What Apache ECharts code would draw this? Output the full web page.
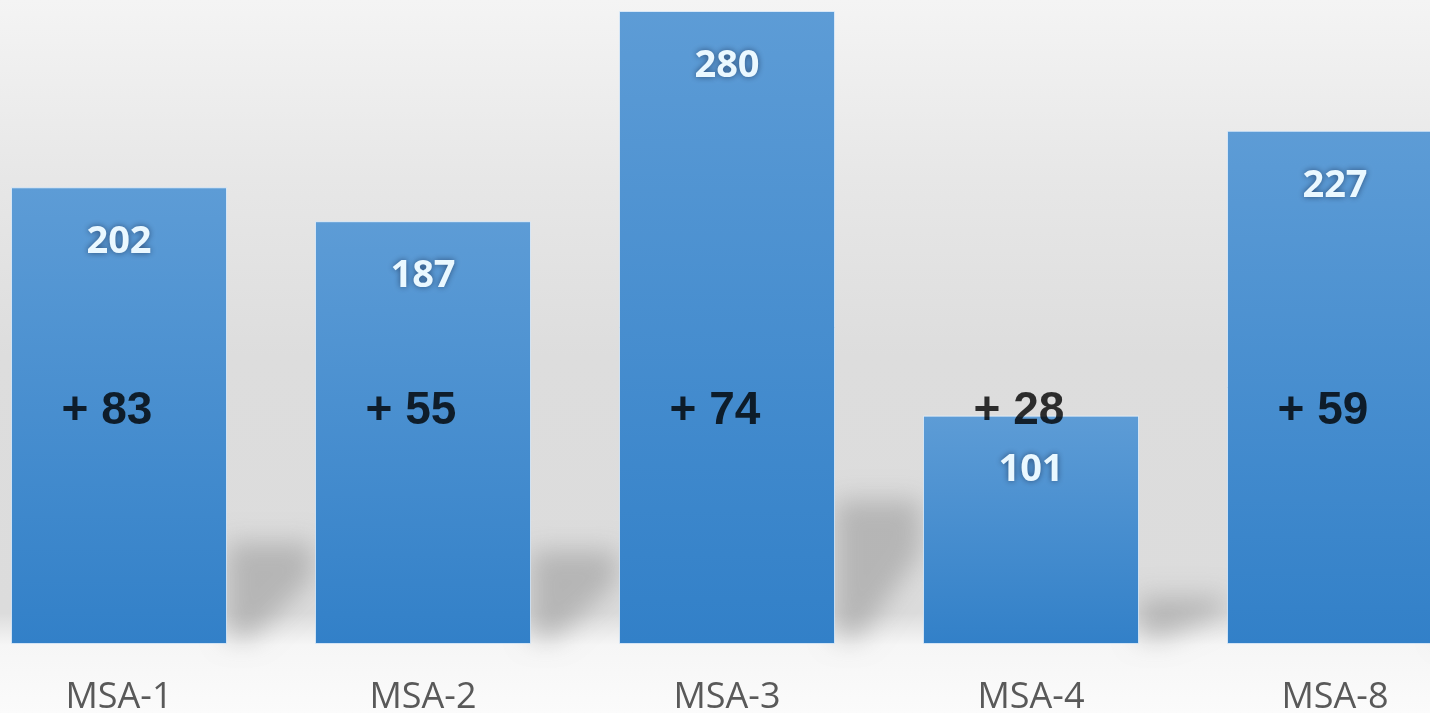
<!DOCTYPE html>
<html>
<head>
<meta charset="utf-8">
<script src="https://cdn.jsdelivr.net/npm/echarts@6/dist/echarts.min.js"></script>
<style>
html,body{margin:0;padding:0;background:#fff;}
#chart{width:1430px;height:713px;}
</style>
</head>
<body>
<div id="chart"></div>
<script>
var categories = ['MSA-1', 'MSA-2', 'MSA-3', 'MSA-4', 'MSA-8'];
var totals = [202, 187, 280, 101, 227];
var gains = [83, 55, 74, 28, 59];

var chart = echarts.init(document.getElementById('chart'));
var GAIN_LEVEL = 103;

var option = {
  animation: false,
  backgroundColor: {
    type: 'linear', x: 0, y: 0, x2: 0, y2: 1,
    colorStops: [
      { offset: 0, color: '#f4f4f4' },
      { offset: 0.25, color: '#e7e7e7' },
      { offset: 0.5, color: '#dddddd' },
      { offset: 0.86, color: '#dcdcdc' },
      { offset: 0.905, color: '#f6f6f6' },
      { offset: 1, color: '#fbfbfb' }
    ]
  },
  grid: { left: -33, right: -57, top: 11, bottom: 69, outerBoundsMode: 'none' },
  xAxis: {
    type: 'category',
    data: categories,
    axisLine: { show: false },
    axisTick: { show: false },
    axisLabel: {
      fontSize: 36,
      color: '#595959',
      fontFamily: 'Open Sans',
      margin: 36
    }
  },
  yAxis: {
    type: 'value', min: 0, max: 280,
    show: false,
    splitLine: { show: false }
  },
  series: [
    {
      type: 'custom',
      z: 1,
      silent: true,
      data: totals,
      renderItem: function (params, api) {
        var top = api.coord([api.value(0), api.value(1)]);
        var bottom = api.coord([api.value(0), 0]);
        var size = api.size([1, 0]);
        var half = 108;
        var xr = top[0] + half;
        var yb = bottom[1];
        var h = (yb - top[1]) * 0.24;
        var yt = yb - h;
        var gap = size[0] - 2 * half;
        var shift = 3000;
        return {
          type: 'polygon',
          shape: {
            points: [
              [xr - shift, yt + 8],
              [xr + gap - 2 - shift, yt + 8],
              [xr + gap - 2 - shift, yt + h * 0.4],
              [xr + 25 - shift, yb - 6],
              [xr - shift, yb - 6]
            ]
          },
          style: {
            fill: '#aaaaaa',
            shadowColor: 'rgba(150,150,150,0.55)',
            shadowBlur: 26,
            shadowOffsetX: shift
          }
        };
      }
    },
    {
      type: 'bar',
      z: 2,
      data: totals,
      barWidth: 216,
      itemStyle: {
        color: {
          type: 'linear', x: 0, y: 0, x2: 0, y2: 1,
          colorStops: [
            { offset: 0, color: '#5d9cd6' },
            { offset: 1, color: '#3280c8' }
          ]
        },
        borderColor: 'rgba(235,245,255,0.7)',
        borderWidth: 1
      },
      label: {
        show: true,
        position: 'insideTop',
        distance: 36,
        fontSize: 38,
        fontWeight: 'bold',
        fontFamily: 'Open Sans',
        color: '#eaf8ff',
        textShadowColor: 'rgba(40,70,110,0.9)',
        textShadowBlur: 6
      }
    },
    {
      type: 'scatter',
      z: 3,
      symbolSize: 0,
      silent: true,
      data: gains.map(function (g, i) { return [categories[i], GAIN_LEVEL, g]; }),
      label: {
        show: true,
        position: 'inside',
        offset: [-12, 0],
        fontSize: 46,
        fontWeight: 'bold',
        fontFamily: 'Liberation Sans',
        color: '#000',
        formatter: function (p) { return '+ ' + p.data[2]; }
      }
    }
  ]
};
chart.setOption(option);
</script>
</body>
</html>
